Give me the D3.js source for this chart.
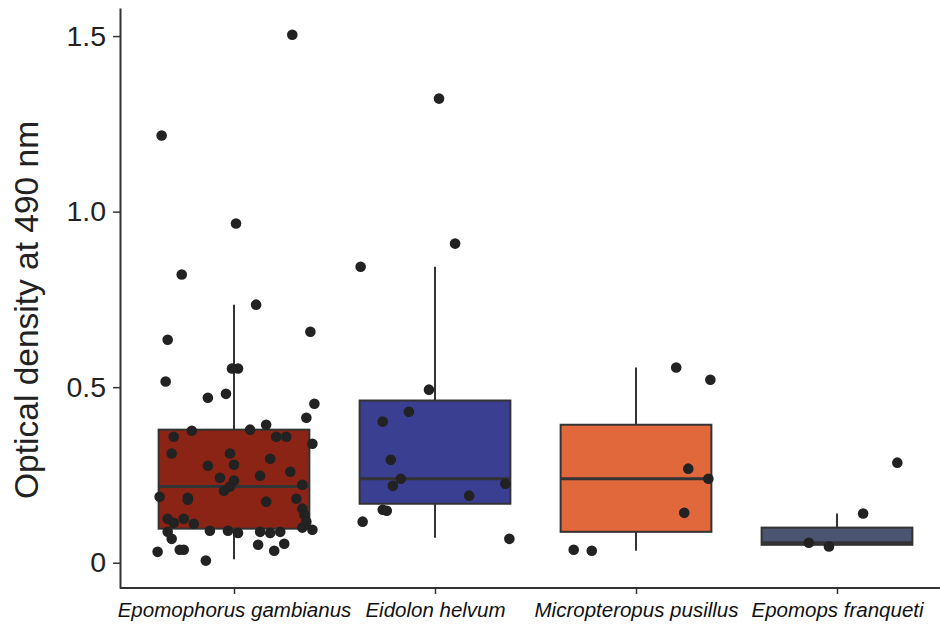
<!DOCTYPE html>
<html>
<head>
<meta charset="utf-8">
<script src="https://cdn.jsdelivr.net/npm/d3@7"></script>
<style>
  body { margin: 0; background: #fff; }
  svg text { font-family: "Liberation Sans", Arial, Helvetica, sans-serif; }
</style>
</head>
<body>
<div id="chart"></div>
<script>
// species on the x axis
const species = ['Epomophorus gambianus', 'Eidolon helvum', 'Micropteropus pusillus', 'Epomops franqueti']
const boxColors = ['#8b2415', '#3a3f92', '#e0683b', '#4a5572']

// box stats: [lowWhisker, q1, median, q3, highWhisker]
const boxStats = [
  [0.01, 0.097, 0.217, 0.379, 0.735],
  [0.071, 0.168, 0.239, 0.462, 0.843],
  [0.034, 0.088, 0.239, 0.393, 0.556],
  [0.05, 0.051, 0.057, 0.100, 0.14]
]

// raw points (value) and horizontal jitter (in category units)
const gambianusOD = [0.735, 0.658, 0.635, 0.553, 0.553, 0.516, 0.470, 0.481, 0.453, 0.413, 0.376, 0.379, 0.393, 0.359, 0.359, 0.359, 0.339, 0.311, 0.311, 0.296, 0.276, 0.279, 0.259, 0.242, 0.248, 0.234, 0.217, 0.205, 0.222, 0.188, 0.185, 0.179, 0.182, 0.174, 0.154, 0.137, 0.125, 0.114, 0.125, 0.111, 0.117, 0.100, 0.094, 0.088, 0.091, 0.091, 0.085, 0.088, 0.085, 0.088, 0.068, 0.051, 0.054, 0.031, 0.037, 0.037, 0.034, 0.006, 1.504, 1.217, 0.966, 0.821]
const gambianusJit = [0.11, 0.38, -0.33, -0.01, 0.02, -0.34, -0.13, -0.04, 0.40, 0.36, -0.21, 0.08, 0.16, -0.30, 0.21, 0.26, 0.39, -0.31, -0.02, 0.18, -0.13, 0.00, 0.28, -0.07, 0.13, 0.00, -0.02, -0.05, 0.34, -0.37, -0.23, -0.23, 0.31, 0.16, 0.34, 0.35, -0.33, -0.30, -0.25, -0.20, 0.36, 0.34, 0.39, -0.33, -0.12, -0.03, 0.02, 0.13, 0.18, 0.23, -0.31, 0.12, 0.25, -0.38, -0.27, -0.25, 0.20, -0.14, 0.29, -0.36, 0.01, -0.26]
const helvumOD = [0.843, 1.322, 0.909, 0.493, 0.430, 0.402, 0.293, 0.239, 0.219, 0.225, 0.191, 0.151, 0.148, 0.117, 0.068]
const helvumJit = [-0.37, 0.02, 0.10, -0.03, -0.13, -0.26, -0.22, -0.17, -0.21, 0.35, 0.17, -0.26, -0.24, -0.36, 0.37]
const pusillusOD = [0.556, 0.521, 0.268, 0.239, 0.142, 0.037, 0.034]
const pusillusJit = [0.20, 0.37, 0.26, 0.36, 0.24, -0.31, -0.22]
const franquetiOD = [0.285, 0.140, 0.057, 0.046]
const franquetiJit = [0.30, 0.13, -0.14, -0.04]

const yTicks = [0, 0.5, 1.0, 1.5]
const yTickLabels = ['0', '0.5', '1.0', '1.5']

const width = 940, height = 625

const svg = d3.select('#chart').append('svg')
  .attr('width', width)
  .attr('height', height)

const y = d3.scaleLinear()
  .domain([-0.072, 1.58])
  .range([588, 8])

const x = d3.scalePoint()
  .domain(species)
  .range([234, 837])

const step = x.step()
const boxW = step * 0.75

// axes
const yAxis = d3.axisLeft(y)
  .tickValues(yTicks)
  .tickFormat((d, i) => yTickLabels[i])
  .tickSize(7)
  .tickSizeOuter(0)

const gy = svg.append('g')
  .attr('transform', 'translate(120,0)')
  .call(yAxis)
gy.select('.domain').attr('stroke', '#333').attr('stroke-width', 2)
gy.selectAll('.tick line').attr('stroke', '#333').attr('stroke-width', 1.5)
gy.selectAll('.tick text')
  .attr('fill', '#222')
  .attr('font-size', 28.5)
  .attr('x', -14)

const xAxisScale = d3.scaleLinear().domain([0, 1]).range([120, 940])
const xAxis = d3.axisBottom(x)
  .tickSize(6)
  .tickSizeOuter(0)
const gx = svg.append('g')
  .attr('transform', 'translate(0,588)')
  .call(xAxis)
gx.select('.domain').attr('d', `M${xAxisScale(0)},0H${xAxisScale(1)}`)
  .attr('stroke', '#333').attr('stroke-width', 2)
gx.selectAll('.tick line').attr('stroke', '#333').attr('stroke-width', 1.5)
gx.selectAll('.tick text')
  .attr('fill', '#111')
  .attr('font-size', 20.5)
  .attr('font-style', 'italic')
  .attr('y', 14)

// y title
svg.append('text')
  .attr('transform', `translate(38,${y(0.72)}) rotate(-90)`)
  .attr('text-anchor', 'middle')
  .attr('font-size', 33.5)
  .attr('fill', '#222')
  .text('Optical density at 490 nm')

// boxes
const boxes = svg.append('g')
  .selectAll('g')
  .data(species)
  .join('g')
    .attr('transform', d => `translate(${x(d)},0)`)

boxes.append('line')
  .attr('x1', 0).attr('x2', 0)
  .attr('y1', (d, i) => y(boxStats[i][4]))
  .attr('y2', (d, i) => y(boxStats[i][0]))
  .attr('stroke', '#333')
  .attr('stroke-width', 2)

boxes.append('rect')
  .attr('x', -boxW / 2)
  .attr('width', boxW)
  .attr('y', (d, i) => y(boxStats[i][3]))
  .attr('height', (d, i) => y(boxStats[i][1]) - y(boxStats[i][3]))
  .attr('fill', (d, i) => boxColors[i])
  .attr('stroke', '#333')
  .attr('stroke-width', 2)

boxes.append('line')
  .attr('x1', -boxW / 2).attr('x2', boxW / 2)
  .attr('y1', (d, i) => y(boxStats[i][2]))
  .attr('y2', (d, i) => y(boxStats[i][2]))
  .attr('stroke', '#333')
  .attr('stroke-width', 3)

// jittered points
const pointSets = [
  [gambianusOD, gambianusJit],
  [helvumOD, helvumJit],
  [pusillusOD, pusillusJit],
  [franquetiOD, franquetiJit]
]
const points = []
pointSets.forEach(([vals, jit], i) => {
  vals.forEach((v, k) => points.push({ sp: species[i], value: v, jit: jit[k] }))
})

svg.append('g')
  .selectAll('circle')
  .data(points)
  .join('circle')
    .attr('cx', d => x(d.sp) + d.jit * step)
    .attr('cy', d => y(d.value))
    .attr('r', 5.3)
    .attr('fill', '#222')
</script>
</body>
</html>
